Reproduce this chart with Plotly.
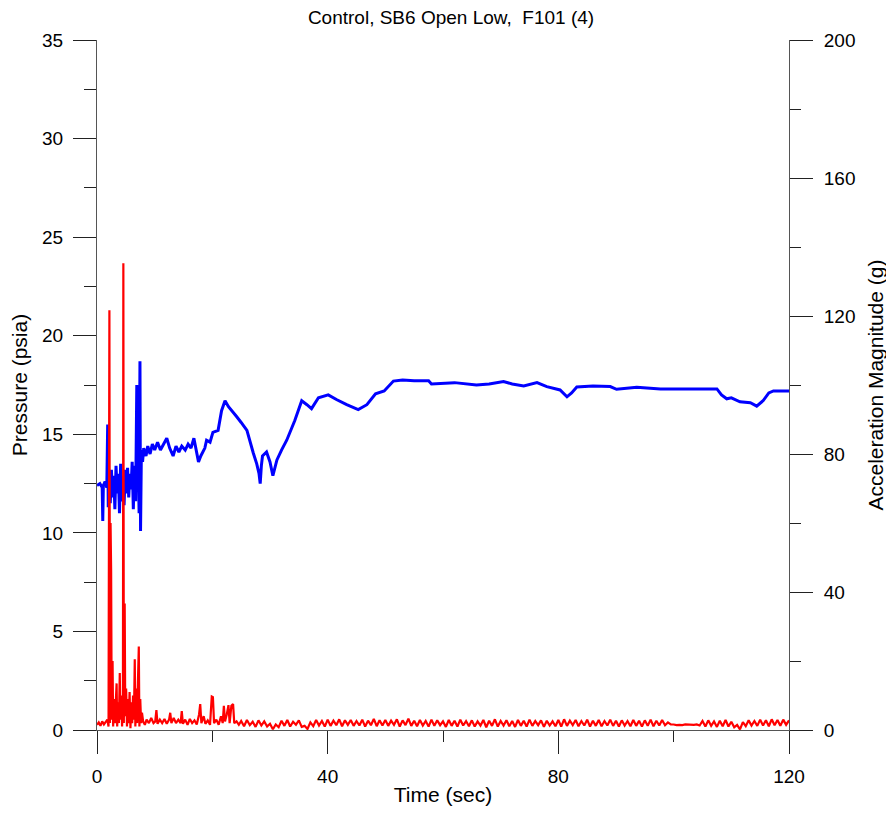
import numpy as np
import plotly.graph_objects as go

TITLE = "Control, SB6 Open Low,  F101 (4)"

# Pressure trace (psia, left axis)
pressure_t = [0, 0.5, 0.9, 1.0, 1.1, 1.4, 1.7, 1.85, 1.95, 2.1, 2.3, 2.5, 2.7, 2.9, 3.1,
              3.3, 3.5, 3.7, 3.9, 4.1, 4.3, 4.5, 4.7, 4.9, 5.1, 5.3, 5.5, 5.7, 5.9, 6.1,
              6.3, 6.5, 6.7, 6.9, 7.0, 7.15, 7.3, 7.45, 7.55, 7.7, 7.9, 8.1, 8.5, 8.8, 9.2,
              9.6, 10.0, 10.5, 11.0, 11.5, 12.1, 12.6, 13.2, 13.7, 14.2, 14.7, 15.3, 15.8,
              16.3, 16.8, 17.2, 17.6, 18.0, 18.7, 19.0, 19.6, 20.1, 21.0, 21.6, 22.2, 22.8,
              23.4, 24.2, 25.0, 26.0, 27.1, 27.7, 28.1, 28.3, 28.5, 28.7, 29.4, 30.0, 30.5,
              31.2, 32.0, 32.9, 34.3, 35.5, 36.4, 37.2, 38.4, 40.1, 41.6, 43.3, 45.3, 46.8,
              48.3, 49.8, 51.4, 53, 55, 57.5, 58.0, 60, 62, 65.8, 68, 70.5, 72, 74, 76.3,
              78, 80.3, 81.5, 82.3, 83.2, 86, 89, 90.1, 93.6, 97.7, 103, 107.5, 108.3,
              109.2, 110, 111.5, 113.3, 114.4, 115.5, 116.5, 117.3, 120]
pressure_psia = [12.4, 12.5, 12.3, 10.6, 12.4, 12.6, 12.3, 15.5, 11.3, 12.8, 11.5, 13.2, 11.8,
                 12.9, 11.2, 13.4, 12.0, 13.0, 11.0, 13.5, 11.6, 12.9, 11.4, 13.2, 12.0, 13.3,
                 11.8, 13.0, 12.2, 13.6, 11.2, 13.4, 11.6, 17.5, 12.5, 13.8, 11.0, 18.7, 10.1,
                 14.2, 13.6, 14.3, 13.9, 14.4, 14.0, 14.5, 14.2, 14.6, 14.2, 14.5, 14.8, 14.3,
                 13.9, 14.4, 14.1, 14.4, 14.2, 14.5, 14.3, 14.8, 14.2, 13.6, 13.9, 14.3, 14.7,
                 14.6, 15.1, 15.2, 16.2, 16.7, 16.4, 16.2, 15.9, 15.6, 15.2, 14.05, 13.5, 13.0,
                 12.5, 13.4, 13.9, 14.1, 13.6, 12.9, 13.7, 14.2, 14.7, 15.7, 16.7, 16.5, 16.3,
                 16.85, 17.0, 16.75, 16.5, 16.25, 16.5, 17.05, 17.2, 17.7, 17.75, 17.72, 17.72,
                 17.55, 17.6, 17.62, 17.5, 17.55, 17.68, 17.55, 17.45, 17.62, 17.42, 17.25,
                 16.9, 17.1, 17.4, 17.45, 17.42, 17.28, 17.38, 17.3, 17.3, 17.3, 17.0, 16.8,
                 16.85, 16.65, 16.6, 16.43, 16.7, 17.1, 17.2, 17.2]

# Acceleration magnitude (g, right axis): burst region, then steady band
accel_burst_t = [0, 0.3, 0.6, 0.9, 1.2, 1.5, 1.8, 2.0, 2.15, 2.25, 2.35, 2.45, 2.55, 2.7, 2.8,
                 2.95, 3.1, 3.25, 3.4, 3.5, 3.65, 3.8, 3.95, 4.05, 4.2, 4.35, 4.5, 4.57, 4.65,
                 4.8, 4.9, 5.05, 5.2, 5.35, 5.5, 5.65, 5.8, 5.95, 6.1, 6.25, 6.4, 6.55, 6.65,
                 6.8, 6.95, 7.1, 7.25, 7.35, 7.5, 7.65, 7.8, 8.0, 8.3, 8.6, 9.0, 9.4, 9.8, 10.1,
                 10.3, 10.5, 10.9, 11.3, 11.7, 12.1, 12.5, 12.7, 12.9, 13.3, 13.7, 14.1, 14.5,
                 14.7, 14.9, 15.3, 15.7, 16.1, 16.5, 16.9, 17.3, 17.7, 17.9, 18.1, 18.5, 18.8,
                 19.2, 19.6, 19.9, 20.1, 20.3, 20.7, 21.1, 21.5, 21.8, 22.0, 22.2, 22.5, 22.8,
                 23.0, 23.3, 23.6, 23.8, 24.2, 24.6]
accel_burst_g = [1.5, 2.2, 1.2, 2.5, 1.6, 2.4, 3.0, 1.0, 121.7, 2.0, 60, 46, 3, 20, 1, 9, 2, 12,
                 13.5, 1, 8, 2, 16.5, 3, 10, 1, 8, 135.3, 2, 36.7, 4, 12, 1, 9, 2, 11, 0.5, 8, 2,
                 10, 3, 20.5, 1, 12, 2, 14, 24.2, 1, 9, 2, 5, 2.5, 1.5, 3, 2.0, 3.5, 2.0, 2.5,
                 5.8, 1.8, 3, 2, 3.2, 1.8, 3.0, 5.0, 2.0, 3.5, 2, 3, 2, 5.5, 1.8, 3, 1.5, 3.2, 2,
                 2.8, 1.6, 4.5, 7.5, 2, 4.0, 1.8, 2.8, 1.5, 9.7, 9.5, 2, 3, 1.5, 4, 2, 7.0, 2.5,
                 4.5, 7.2, 2, 7.0, 7.5, 2, 2.5, 1.5]
# steady band, one reading every 0.5 s from 25 s to 120 s
accel_band_g = [2.6, 1.1, 2.9, 1.4, 2.4, 0.9, 2.8, 1.3, 2.5, 1.0,
                1.8, 0.2, 1.6, 0.8, 2.7, 1.2, 2.9, 1.0, 2.4, 1.5,
                2.8, 0.9, 1.2, 0.3, 2.2, 1.1, 2.9, 1.3, 2.6, 1.0,
                3.0, 1.2, 2.7, 1.4, 3.1, 1.1, 2.8, 1.5, 2.9, 1.2,
                2.6, 1.3, 3.0, 1.0, 2.7, 1.4, 3.2, 1.1, 2.8, 1.3,
                2.9, 1.2, 2.7, 1.5, 3.1, 1.0, 2.8, 1.4, 3.3, 1.2,
                2.7, 1.1, 2.9, 1.3, 2.6, 1.0, 3.0, 1.2, 2.8, 1.4,
                2.5, 0.9, 2.9, 1.2, 2.7, 1.0, 3.0, 1.3, 2.6, 1.1,
                2.8, 1.0, 2.5, 1.3, 2.9, 0.8, 2.7, 1.2, 3.1, 1.0,
                2.6, 1.3, 2.8, 1.1, 2.6, 0.9, 2.9, 1.2, 2.7, 1.0,
                3.0, 1.2, 2.6, 1.4, 2.8, 0.9, 2.7, 1.3, 2.5, 1.1,
                2.9, 1.0, 3.1, 1.2, 2.7, 1.4, 2.9, 1.1, 2.6, 1.3,
                3.0, 1.0, 2.7, 1.2, 2.9, 1.1, 2.6, 1.3, 3.0, 1.2,
                2.7, 1.0, 2.8, 1.3, 2.6, 1.1, 2.9, 1.2, 2.7, 1.0,
                2.8, 1.2, 3.0, 1.1, 2.7, 1.3, 2.9, 1.4, 2.2, 1.6,
                1.6, 1.4, 1.5, 1.4, 1.6, 1.5, 1.4, 1.5, 1.6, 1.3,
                2.6, 1.0, 2.8, 1.2, 2.5, 0.9, 2.7, 1.1, 2.9, 1.0,
                2.4, 0.8, 1.5, 0.2, 2.3, 1.1, 2.8, 1.3, 2.6, 1.2,
                3.0, 1.3, 2.8, 1.1, 3.1, 1.4, 2.9, 1.2, 3.0, 1.5,
                2.8]
accel_band_t = list(np.arange(25.0, 120.01, 0.5))

x_ticks = [0, 40, 80, 120]
left_ticks = [0, 5, 10, 15, 20, 25, 30, 35]
right_ticks = [0, 40, 80, 120, 160, 200]

FONT = "Liberation Sans, Arial, sans-serif"
LINE = "#555555"
TICK = "#222222"

fig = go.Figure()
fig.add_trace(go.Scatter(x=pressure_t, y=pressure_psia, mode="lines",
                         line=dict(color="#0000ff", width=3), yaxis="y"))
fig.add_trace(go.Scatter(x=accel_burst_t + accel_band_t, y=accel_burst_g + accel_band_g,
                         mode="lines", line=dict(color="#ff0000", width=2.2), yaxis="y2"))

# the page adds an 8 px body margin, so the figure is drawn 8 px smaller
fig.update_layout(
    width=886, height=807,
    margin=dict(l=89, r=105, t=32, b=85),
    paper_bgcolor="white", plot_bgcolor="white",
    showlegend=False,
    font=dict(family=FONT, color="black"),
    title=dict(text=TITLE, x=0.5, xref="container", y=1.0, yref="container",
               yanchor="top", pad=dict(t=3), font=dict(size=19, color="black")),
    xaxis=dict(range=[0, 120], tickvals=x_ticks, showgrid=False, zeroline=False,
               showline=True, linecolor=LINE, linewidth=1, automargin=False,
               ticks="outside", ticklen=23, tickcolor=TICK, tickwidth=1,
               ticklabelstandoff=6, tickfont=dict(size=19),
               minor=dict(dtick=20, ticks="outside", ticklen=11, tickcolor=TICK, showgrid=False),
               title=dict(text="Time (sec)", font=dict(size=21), standoff=1)),
    yaxis=dict(range=[0, 35], tickvals=left_ticks, showgrid=False, zeroline=False,
               showline=True, linecolor=LINE, linewidth=1, automargin=False,
               ticks="outside", ticklen=23, tickcolor=TICK, tickwidth=1,
               ticklabelstandoff=6, tickfont=dict(size=19),
               minor=dict(dtick=2.5, ticks="outside", ticklen=12, tickcolor=TICK, showgrid=False),
               title=dict(text="Pressure (psia)", font=dict(size=21), standoff=8)),
    yaxis2=dict(range=[0, 200], tickvals=right_ticks, overlaying="y", side="right",
                showgrid=False, zeroline=False, automargin=False,
                showline=True, linecolor=LINE, linewidth=1,
                ticks="outside", ticklen=23, tickcolor=TICK, tickwidth=1,
                ticklabelstandoff=7, tickfont=dict(size=19),
                minor=dict(dtick=20, ticks="outside", ticklen=11, tickcolor=TICK, showgrid=False),
                title=dict(text="Acceleration Magnitude (g)", font=dict(size=21), standoff=13)),
)

fig.write_html("out.html")
